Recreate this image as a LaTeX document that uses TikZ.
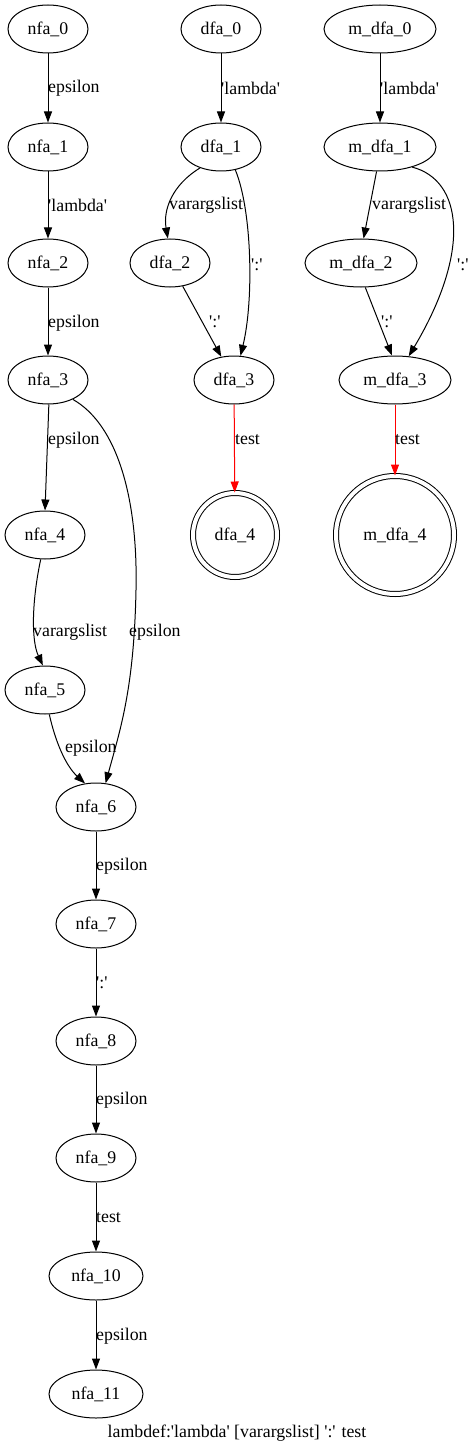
\documentclass[tikz,border=0pt]{standalone}
\usepackage{fontspec}
\setmainfont{Liberation Serif}
\usetikzlibrary{shapes.geometric,arrows.meta}
\newcommand{\qq}{\textquotesingle}
\begin{document}
\begin{tikzpicture}[x=1pt,y=-1pt,
  every node/.style={font=\fontsize{17.8}{21}\selectfont},
  st/.style={draw,ellipse,line width=1pt,inner sep=0pt,minimum width=80pt,minimum height=48pt},
  stw/.style={st,minimum width=94pt},
  mst/.style={st,minimum width=112pt},
  acc/.style={draw,circle,double,double distance=4pt,line width=1pt,inner sep=0pt},
  lbl/.style={anchor=west,inner sep=0pt},
  ed/.style={draw,line width=1pt,-{Triangle[length=11pt,width=8pt]}},
  red/.style={ed,color=red}]
\useasboundingbox (0,0) rectangle (475,1455);
% NFA
\node[st] (n0) at (48,29) {nfa\_0};
\node[st] (n1) at (48,147) {nfa\_1};
\node[st] (n2) at (48,263) {nfa\_2};
\node[st] (n3) at (48,380) {nfa\_3};
\node[st] (n4) at (45,535) {nfa\_4};
\node[st] (n5) at (45,690) {nfa\_5};
\node[st] (n6) at (96,807) {nfa\_6};
\node[st] (n7) at (96,924) {nfa\_7};
\node[st] (n8) at (96,1041) {nfa\_8};
\node[st] (n9) at (96,1158) {nfa\_9};
\node[stw] (n10) at (96,1276) {nfa\_10};
\node[stw] (n11) at (96,1394) {nfa\_11};
% DFA
\node[st] (d0) at (221,29) {dfa\_0};
\node[st] (d1) at (221,147) {dfa\_1};
\node[st] (d2) at (170,263) {dfa\_2};
\node[st] (d3) at (234,380) {dfa\_3};
\node[acc,minimum size=84pt] (d4) at (235,535) {dfa\_4};
% minimized DFA
\node[mst] (m0) at (380,29) {m\_dfa\_0};
\node[mst] (m1) at (380,147) {m\_dfa\_1};
\node[mst] (m2) at (361,263) {m\_dfa\_2};
\node[mst] (m3) at (395,380) {m\_dfa\_3};
\node[acc,minimum size=118pt] (m4) at (395,535) {m\_dfa\_4};
% NFA edges
\path[ed] (n0) -- (n1);
\node[lbl] (ln01) at (48,88) {epsilon};
\path[ed] (n1) -- (n2);
\node[lbl] (ln12) at (48,205) {\qq lambda\qq};
\path[ed] (n2) -- (n3);
\node[lbl] (ln23) at (48,323) {epsilon};
\path[ed] (n3.-88) -- (n4.90);
\node[lbl] (ln34) at (48,440) {epsilon};
\path[ed] (n4.-100) .. controls (32,600) and (31,640) .. (n5.95);
\node[lbl] (ln45) at (33,632) {varargslist};
\path[ed] (n3.-38) .. controls (118,425) and (138,500) .. (136,590) .. controls (134,690) and (120,730) .. (n6.68);
\node[lbl] (ln36) at (129,632) {epsilon};
\path[ed] (n5.-80) .. controls (55,740) and (65,765) .. (n6.115);
\node[lbl] (ln56) at (65,748) {epsilon};
\path[ed] (n6) -- (n7);
\node[lbl] (ln67) at (96,866) {epsilon};
\path[ed] (n7) -- (n8);
\node[lbl] (ln78) at (96,983) {\qq:\qq};
\path[ed] (n8) -- (n9);
\node[lbl] (ln89) at (96,1100) {epsilon};
\path[ed] (n9) -- (n10);
\node[lbl] (ln910) at (96,1218) {test};
\path[ed] (n10) -- (n11);
\node[lbl] (ln1011) at (96,1336) {epsilon};
% DFA edges
\path[ed] (d0) -- (d1);
\node[lbl] (ld01) at (221,88) {\qq lambda\qq};
\path[ed] (d1.-135) .. controls (172,185) and (163,210) .. (d2.95);
\node[lbl] (ld12) at (169,205) {varargslist};
\path[ed] (d1.-58) .. controls (252,210) and (254,300) .. (d3.75);
\node[lbl] (ld13) at (251,265) {\qq:\qq};
\path[ed] (d2) -- (d3);
\node[lbl] (ld23) at (209,322) {\qq:\qq};
\path[red] (d3) -- (d4);
\node[lbl] (ld34) at (235,440) {test};
% m_dfa edges
\path[ed] (m0) -- (m1);
\node[lbl] (lm01) at (380,88) {\qq lambda\qq};
\path[ed] (m1.-98) -- (m2.84);
\node[lbl] (lm12) at (372,205) {varargslist};
\path[ed] (m1.-32) .. controls (462,180) and (472,250) .. (m3.60);
\node[lbl] (lm13) at (457,265) {\qq:\qq};
\path[ed] (m2.-80) -- (m3.97);
\node[lbl] (lm23) at (381,322) {\qq:\qq};
\path[red] (m3) -- (m4);
\node[lbl] (lm34) at (395,440) {test};
% caption
\node (cap) at (237,1433) {lambdef:\qq lambda\qq{} [varargslist] \qq:\qq{} test};
\end{tikzpicture}
\end{document}
